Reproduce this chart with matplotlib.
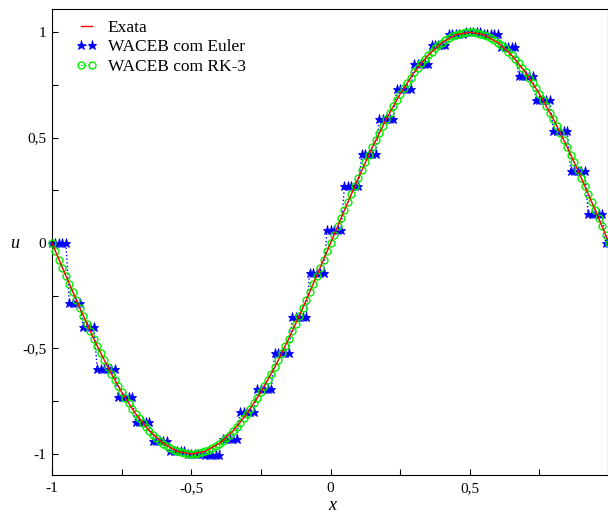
import numpy as np
import matplotlib
matplotlib.use('Agg')
import matplotlib.pyplot as plt
from matplotlib.ticker import MultipleLocator, FuncFormatter

plt.rcParams['font.family'] = 'serif'
plt.rcParams['font.serif'] = ['Liberation Serif', 'DejaVu Serif']
plt.rcParams['axes.unicode_minus'] = False

# exact solution, sampled every 0.05
x_exact = np.linspace(-1, 1, 41)
u_exact = [0, -0.156, -0.309, -0.454, -0.588, -0.707, -0.809, -0.891, -0.951, -0.988,
           -1.0, -0.988, -0.951, -0.891, -0.809, -0.707, -0.588, -0.454, -0.309, -0.156,
           0, 0.156, 0.309, 0.454, 0.588, 0.707, 0.809, 0.891, 0.951, 0.988,
           1.0, 0.988, 0.951, 0.891, 0.809, 0.707, 0.588, 0.454, 0.309, 0.156, 0]

# numerical grid (161 nodes)
x_grid = np.linspace(-1, 1, 161)

u_rk3 = [0, -.039, -.079, -.118, -.156, -.195, -.233, -.271, -.309, -.346, -.383, -.419,
         -.454, -.489, -.522, -.556, -.588, -.619, -.649, -.679, -.707, -.734, -.760, -.785,
         -.809, -.831, -.853, -.872, -.891, -.908, -.924, -.938, -.951, -.962, -.972, -.981,
         -.988, -.993, -.997, -.999, -1.0,
         -.999, -.997, -.993, -.988, -.981, -.972, -.962, -.951, -.938, -.924, -.908, -.891,
         -.872, -.853, -.831, -.809, -.785, -.760, -.734, -.707, -.679, -.649, -.619, -.588,
         -.556, -.522, -.489, -.454, -.419, -.383, -.346, -.309, -.271, -.233, -.195, -.156,
         -.118, -.079, -.039, 0,
         .039, .079, .118, .156, .195, .233, .271, .309, .346, .383, .419, .454, .489, .522,
         .556, .588, .619, .649, .679, .707, .734, .760, .785, .809, .831, .853, .872, .891,
         .908, .924, .938, .951, .962, .972, .981, .988, .993, .997, .999, 1.0,
         .999, .997, .993, .988, .981, .972, .962, .951, .938, .924, .908, .891, .872, .853,
         .831, .809, .785, .760, .734, .707, .679, .649, .619, .588, .556, .522, .489, .454,
         .419, .383, .346, .309, .271, .233, .195, .156, .118, .079, .039, 0]

# Euler run: staircase levels and how many nodes sit on each level
euler_levels = [0, -0.285, -0.40, -0.595, -0.73, -0.85, -0.94, -0.985, -1.0, -1.005,
                -0.93, -0.80, -0.69, -0.52, -0.35, -0.14, 0.06, 0.27, 0.42, 0.59,
                0.73, 0.85, 0.94, 0.99, 1.0, 0.99, 0.93, 0.79, 0.68, 0.53, 0.34, 0.14, 0.0]
euler_counts = [5, 4, 4, 6] + [5] * 28 + [2]
u_euler = np.repeat(euler_levels, euler_counts)

fig = plt.figure(figsize=(6.08, 5.12), dpi=100)
ax = fig.add_axes([52 / 608, 37 / 512, 556 / 608, 466 / 512])

ax.plot(x_exact, u_exact, color='red', lw=1.0, label='Exata', zorder=4)
ax.plot(x_grid, u_euler, color='blue', ls=':', lw=1.0, marker='*', ms=6.5,
        mec='blue', mfc='blue', mew=0.6, label='WACEB com Euler', zorder=2, clip_on=False)
ax.plot(x_grid, u_rk3, color='#00f000', ls=':', lw=1.0, marker='o', ms=5,
        mfc='none', mec='#00f000', mew=1.0, label='WACEB com RK-3', zorder=3, clip_on=False)

ax.set_xlim(-1, 0.996)
ax.set_ylim(-1.1, 1.11)

ax.xaxis.set_major_locator(MultipleLocator(0.5))
ax.xaxis.set_minor_locator(MultipleLocator(0.25))
ax.yaxis.set_major_locator(MultipleLocator(0.5))
ax.yaxis.set_minor_locator(MultipleLocator(0.25))
fmt = FuncFormatter(lambda v, p: ('%g' % v).replace('.', ','))
ax.xaxis.set_major_formatter(fmt)
ax.yaxis.set_major_formatter(fmt)
ax.tick_params(which='both', direction='in', length=4.5, width=0.8, labelsize=11)
ax.tick_params(axis='x', pad=5)
ax.tick_params(axis='y', pad=4)

ax.set_xlabel('x', fontsize=13, fontstyle='italic', va='center')
ax.set_ylabel('u', fontsize=13, fontstyle='italic', rotation=0, ha='center', va='center')
ax.xaxis.set_label_coords((332 - 52) / 556, -(505 - 475) / 466)
ax.yaxis.set_label_coords(-(52 - 15) / 556, (475 - 243) / 466)

ax.legend(loc='upper left', bbox_to_anchor=(0.036, 0.985), frameon=False, fontsize=12.5,
          numpoints=2, handlelength=1.25, handletextpad=0.6, labelspacing=0.2,
          borderpad=0.2, borderaxespad=0)

fig.savefig('out.png', dpi=100)
